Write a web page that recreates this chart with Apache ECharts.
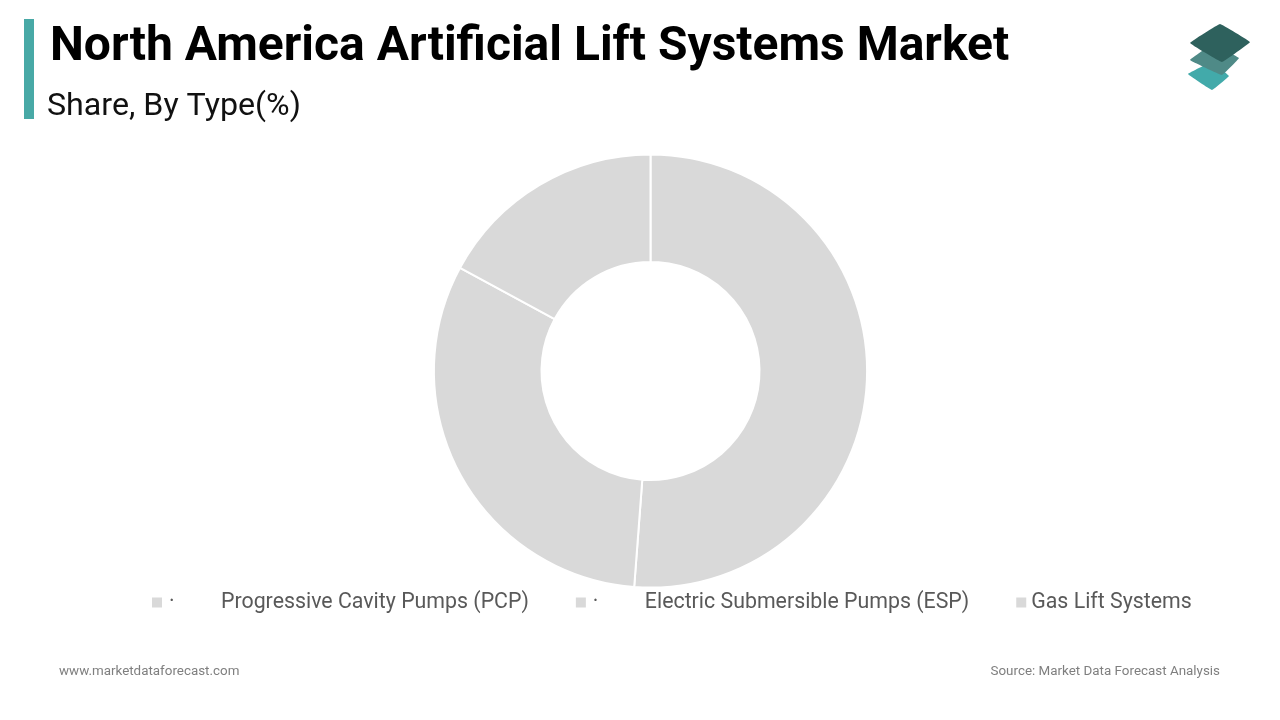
<!DOCTYPE html>
<html>

<head>
    <meta charset='UTF-8'>
    <script src="https://cdn.jsdelivr.net/npm/echarts@6/dist/echarts.min.js"></script>
    <style>
        html, body { margin: 0; background: #fff; }
        #chart { width: 1280px; height: 720px; }
    </style>
    <title>North America Artificial Lift Systems Market</title>
</head>

<body>
    <div id="chart"></div>
    <script>
        var types = ['Progressive Cavity Pumps (PCP)', 'Electric Submersible Pumps (ESP)', 'Gas Lift Systems'];
        var shares = [51.2, 31.7, 17.1];
        var titleText = 'North America Artificial Lift Systems Market';
        var subtitleText = 'Share, By Type(%)';
        var siteText = 'www.marketdataforecast.com';
        var sourceText = 'Source: Market Data Forecast Analysis';

        var myChart = echarts.init(document.getElementById('chart'), null, { renderer: 'canvas' });

        //logo layers, bottom one first
        function logoLayer(points, color) {
            return {
                type: 'polygon',
                shape: { points: points, smooth: 0.05 },
                style: { fill: color }
            };
        }

        var option = {
            backgroundColor: '#ffffff',
            animation: false,
            textStyle: { fontFamily: 'Roboto' },
            title: [{
                text: titleText,
                left: 50,
                top: 24,
                padding: 0,
                textStyle: { fontFamily: 'Roboto', fontSize: 48, fontWeight: 'bold', color: '#000000' }
            }, {
                text: subtitleText,
                left: 47,
                top: 91,
                padding: 0,
                textStyle: { fontFamily: 'Roboto', fontSize: 32.2, fontWeight: 'normal', color: '#111111' }
            }, {
                text: siteText,
                left: 59,
                top: 665,
                padding: 0,
                textStyle: { fontFamily: 'Roboto', fontSize: 13.4, fontWeight: 'normal', color: '#7f7f7f' }
            }, {
                text: sourceText,
                right: 60,
                top: 665,
                padding: 0,
                textStyle: { fontFamily: 'Roboto', fontSize: 13.4, fontWeight: 'normal', color: '#7f7f7f' }
            }],
            legend: {
                left: 152,
                top: 592,
                padding: 0,
                itemWidth: 10,
                itemHeight: 10,
                itemGap: 47,
                icon: 'rect',
                selectedMode: false,
                itemStyle: { borderWidth: 0 },
                data: types,
                formatter: function (name) {
                    if (name === types[2]) {
                        return '{last|' + name + '}';
                    }
                    return '{dot|·}{name|' + name + '}';
                },
                textStyle: {
                    rich: {
                        dot: { width: 52, fontFamily: 'Roboto', fontSize: 21.33, color: '#595959', padding: [0, 0, 0, 2] },
                        name: { fontFamily: 'Roboto', fontSize: 21.33, color: '#595959' },
                        last: { fontFamily: 'Roboto', fontSize: 21.33, color: '#595959' }
                    }
                }
            },
            series: [{
                type: 'pie',
                center: [650.5, 371],
                radius: [109, 216.6],
                startAngle: 90,
                clockwise: true,
                silent: true,
                label: { show: false },
                labelLine: { show: false },
                itemStyle: { color: '#d9d9d9', borderColor: '#ffffff', borderWidth: 2 },
                data: types.map(function (name, i) {
                    return { name: name, value: shares[i] };
                })
            }],
            graphic: [{
                type: 'rect',
                shape: { x: 24, y: 19, width: 10, height: 100 },
                style: { fill: '#48a9a6' }
            },
            logoLayer([[1212, 62], [1229, 76], [1212, 90], [1188, 74]], '#42aaaa'),
            logoLayer([[1213, 44], [1239, 58], [1222, 75], [1190, 60]], '#4f8a87'),
            logoLayer([[1220, 24], [1250, 42], [1222, 62], [1190, 43]], '#2e615d')]
        };

        myChart.setOption(option);
    </script>
</body>

</html>
